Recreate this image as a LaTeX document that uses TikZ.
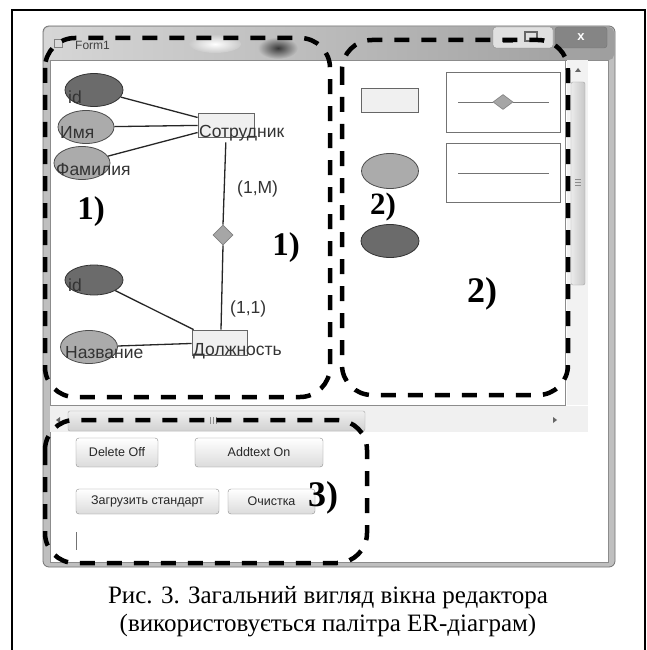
\documentclass[tikz,border=0pt]{standalone}
\usepackage{fontspec}
\setmainfont{Liberation Serif}
\newfontfamily\uisans{Liberation Sans}
\usetikzlibrary{shapes.geometric}
\tikzset{
 frm/.style={line width=2pt},
 zone/.style={line width=4.5pt, dash pattern=on 15pt off 12pt, rounded corners=30pt},
 attrd/.style={ellipse, draw=black!80, fill=black!58, line width=0.8pt, inner sep=0pt},
 attrl/.style={ellipse, draw=black!70, fill=black!33, line width=0.8pt, inner sep=0pt},
 ent/.style={draw=black!60, fill=black!6, line width=0.8pt, inner sep=0pt},
 rel/.style={diamond, draw=black!50, fill=black!35, line width=0.6pt, inner sep=0pt},
 link/.style={draw=black!85, line width=1.3pt},
 plink/.style={draw=black!55, line width=0.9pt},
 ertxt/.style={font=\uisans\fontsize{17.5}{19}\selectfont, text=black!80, inner sep=0pt, anchor=base west},
 num/.style={font=\bfseries\fontsize{33}{33}\selectfont, inner sep=0pt},
 btn/.style={draw=black!45, rounded corners=3pt, top color=white, bottom color=black!14, inner sep=0pt, font=\uisans\fontsize{12.5}{12.5}\selectfont, text=black!85},
 figcap/.style={font=\fontsize{25}{28}\selectfont, inner sep=0pt, anchor=base},
}
\begin{document}
\begin{tikzpicture}[x=1pt,y=-1pt]
\useasboundingbox (0,0) rectangle (647,650);
\fill[white] (0,0) rectangle (647,650);
% outer frame (open at bottom)
\draw[frm] (12,650) -- (12,10) -- (645,10) -- (645,650);
% window
\fill[black!25, rounded corners=6pt] (43,26) rectangle (615,567);
\shade[left color=black!16, right color=black!38, rounded corners=5pt] (44,27) rectangle (614,60);
\shade[inner color=white, outer color=black!21] (215,44) ellipse (26pt and 9pt);
\shade[inner color=black!78, outer color=black!25] (278,48) ellipse (20pt and 11pt);
\draw[black!55, rounded corners=6pt, line width=0.8pt] (43,26) rectangle (615,567);
% title icon and text
\fill[black!15] (54,39) rectangle (62,47);
\draw[black!50, line width=0.5pt] (54,39) rectangle (62,47);
\node[font=\uisans\fontsize{12}{12}\selectfont, text=black!75, anchor=base west, inner sep=0pt] (ttl) at (75,50) {Form1};
% caption buttons
\node[draw=black!45, fill=black!12, rounded corners=3pt, minimum width=60pt, minimum height=21pt, inner sep=0pt] (minmax) at (523,37.5) {};
\draw[black!60, line width=1.5pt] (503,42) -- (513,42);
\draw[black!60, line width=1.2pt] (525,32) rectangle (537,41);
\node[draw=black!55, fill=black!48, rounded corners=3pt, minimum width=52pt, minimum height=21pt, inner sep=0pt, text=white, font=\uisans\bfseries\fontsize{13}{13}\selectfont] (cls) at (581,37.5) {x};
% client area
\fill[white] (50,60) rectangle (608,562);
\draw[black!45, line width=0.6pt] (50,60) rectangle (608,562);
% canvas panel border
\draw[black!45, line width=0.7pt] (50,60) rectangle (565,405);
% vertical scrollbar
\fill[black!5] (567,60) rectangle (588,405);
\fill[black!60] (575,72) -- (581,72) -- (578,68) -- cycle;
\node[draw=black!35, left color=black!8, right color=black!22, rounded corners=2pt, minimum width=14pt, minimum height=203pt, inner sep=0pt] (vthumb) at (578,183.5) {};
\foreach \yy in {179,182,185} \draw[black!45, line width=0.5pt] (575,\yy) -- (581,\yy);
\fill[black!60] (575,420) -- (581,420) -- (578,424) -- cycle;
% horizontal scrollbar
\fill[black!6] (50,406) rectangle (588,432);
\fill[black!60] (60,417) -- (60,423) -- (56,420) -- cycle;
\node[draw=black!35, top color=black!6, bottom color=black!18, rounded corners=2pt, minimum width=297pt, minimum height=20pt, inner sep=0pt] (hthumb) at (216.5,421) {};
\foreach \xx in {210,213,216} \draw[black!45, line width=0.5pt] (\xx,417) -- (\xx,424);
\fill[black!60] (553,417) -- (553,423) -- (557,420) -- cycle;
% ER diagram
\node[ent, minimum width=56pt, minimum height=24pt] (emp) at (226,125) {};
\node[attrd, minimum width=58pt, minimum height=33pt] (id1) at (94,90) {};
\node[attrl, minimum width=56pt, minimum height=33pt] (nm) at (86,127) {};
\node[attrl, minimum width=56pt, minimum height=33pt] (fam) at (82,163) {};
\node[rel, minimum width=20pt, minimum height=20pt] (dia) at (223,235) {};
\node[ent, minimum width=55pt, minimum height=25pt] (pos) at (219.5,342.5) {};
\node[attrd, minimum width=58pt, minimum height=30pt] (id2) at (94,280) {};
\node[attrl, minimum width=57pt, minimum height=33pt] (ttlname) at (89,347) {};
\draw[link] (id1) -- (emp);
\draw[link] (nm) -- (emp);
\draw[link] (fam) -- (emp);
\draw[link, shorten <=5pt] (emp.south) -- (dia.north);
\draw[link] (dia.south) -- ([xshift=1.5pt]pos.north);
\draw[link] (id2) -- (pos);
\draw[link] (ttlname) -- (pos);
\node[ertxt] (t1) at (68,104) {id};
\node[ertxt] (t2) at (60,139) {Имя};
\node[ertxt] (t3) at (56,175) {Фамилия};
\node[ertxt] (t4) at (199,138) {Сотрудник};
\node[ertxt] (t5) at (237,193) {(1,M)};
\node[ertxt] (t6) at (68,291) {id};
\node[ertxt] (t7) at (230,313) {(1,1)};
\node[ertxt] (t8) at (65,358) {Название};
\node[ertxt] (t9) at (193,355) {Должность};
% palette
\node[ent, minimum width=57pt, minimum height=24pt] (pent) at (389.5,100) {};
\node[attrl, minimum width=57pt, minimum height=35pt] (pattl) at (390,171) {};
\node[attrd, minimum width=58pt, minimum height=33pt] (pattd) at (390,241) {};
\node[draw=black!55, line width=0.8pt, minimum width=114pt, minimum height=60pt, inner sep=0pt] (box1) at (503,102) {};
\node[draw=black!55, line width=0.8pt, minimum width=114pt, minimum height=59pt, inner sep=0pt] (box2) at (503,172.5) {};
\coordinate (b1l) at (458,102);
\coordinate (b1r) at (549,102);
\node[rel, minimum width=20pt, minimum height=15pt] (pdia) at (503,102) {};
\draw[plink] (b1l) -- (pdia.west);
\draw[plink] (pdia.east) -- (b1r);
\coordinate (b2l) at (458,173);
\coordinate (b2r) at (549,173);
\draw[plink] (b2l) -- (b2r);
% lower panel
\node[btn, minimum width=82pt, minimum height=29pt] (bdel) at (117,452.5) {Delete Off};
\node[btn, minimum width=128pt, minimum height=29pt] (badd) at (259,452.5) {Addtext On};
\node[btn, minimum width=143pt, minimum height=25pt] (bload) at (147.5,501.5) {Загрузить стандарт};
\node[btn, minimum width=87pt, minimum height=25pt] (bclr) at (271.5,501.5) {Очистка};
\draw[black!55, line width=0.8pt] (76,532) -- (76,550);
% dashed zones
\draw[zone] (45,38) rectangle (330,397);
\draw[zone] (342,40) rectangle (568,395);
\draw[zone] (45,420) rectangle (367,563);
% zone labels
\node[num] (l1a) at (91,212) {1)};
\node[num] (l1b) at (286,248) {1)};
\node[num, font=\bfseries\fontsize{31}{31}\selectfont] (l2a) at (383,207) {2)};
\node[num, font=\bfseries\fontsize{36}{36}\selectfont] (l2b) at (482,294) {2)};
\node[num, font=\bfseries\fontsize{36}{36}\selectfont] (l3) at (323,498) {3)};
% caption
\node[figcap] (cap1) at (328,603) {Рис. 3. Загальний вигляд вікна редактора};
\node[figcap] (cap2) at (328,631) {(використовується палітра ER-діаграм)};
\end{tikzpicture}
\end{document}
